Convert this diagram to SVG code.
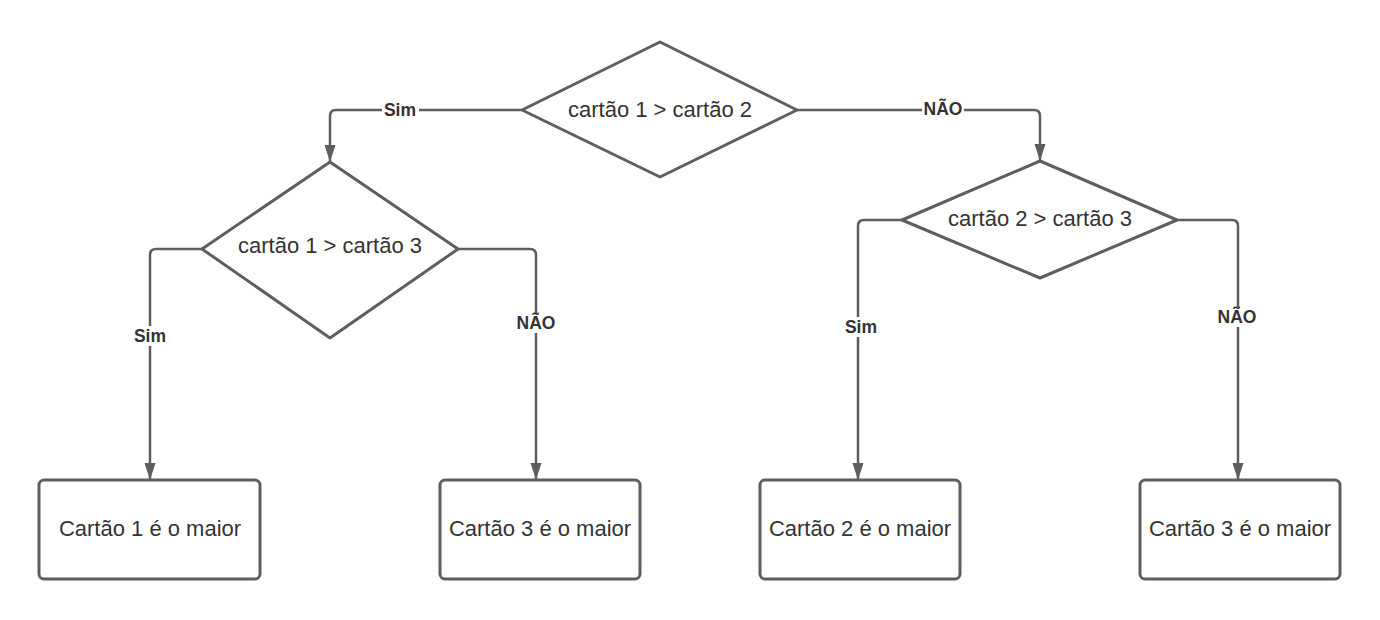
<svg xmlns="http://www.w3.org/2000/svg" width="1380" height="620" viewBox="0 0 1380 620">
<style>
.shape{fill:#ffffff;stroke:#5e5e5e;stroke-width:3;stroke-linejoin:round}
.conn{fill:none;stroke:#5e5e5e;stroke-width:2.5;stroke-linejoin:round}
.txt{font-family:"Liberation Sans",Arial,sans-serif;font-size:22px;fill:#333333;text-anchor:middle;dominant-baseline:central}
.lbl{font-family:"Liberation Sans",Arial,sans-serif;font-size:17.5px;font-weight:bold;fill:#333333;text-anchor:middle;dominant-baseline:central}
.lblbg{fill:#ffffff}
</style>
<defs>
<marker id="arr" viewBox="0 0 17 12" refX="16" refY="6" markerWidth="17" markerHeight="12" markerUnits="userSpaceOnUse" orient="auto">
<path d="M0,0.5 L17,6 L0,11.5 z" fill="#5e5e5e"/>
</marker>
</defs>
<g id="connectors">
<path class="conn" d="M522,110 H336 Q330,110 330,116 V161" marker-end="url(#arr)"/>
<path class="conn" d="M797,110 H1034 Q1040,110 1040,116 V160" marker-end="url(#arr)"/>
<path class="conn" d="M202,249 H156 Q150,249 150,255 V479" marker-end="url(#arr)"/>
<path class="conn" d="M458,249 H530 Q536,249 536,255 V479" marker-end="url(#arr)"/>
<path class="conn" d="M902,220 H864 Q858,220 858,226 V479" marker-end="url(#arr)"/>
<path class="conn" d="M1177,220 H1232 Q1238,220 1238,226 V479" marker-end="url(#arr)"/>
<rect class="lblbg" x="382" y="100" width="37" height="20"/>
<text class="lbl" x="400" y="110">Sim</text>
<rect class="lblbg" x="922" y="99" width="42" height="20"/>
<text class="lbl" x="943" y="109">NÃO</text>
<rect class="lblbg" x="131" y="326" width="38" height="20"/>
<text class="lbl" x="150" y="336">Sim</text>
<rect class="lblbg" x="515" y="313" width="42" height="20"/>
<text class="lbl" x="536" y="323">NÃO</text>
<rect class="lblbg" x="842" y="317" width="38" height="20"/>
<text class="lbl" x="861" y="327">Sim</text>
<rect class="lblbg" x="1216" y="307" width="42" height="20"/>
<text class="lbl" x="1237" y="317">NÃO</text>
</g>
<g id="d1">
<path class="shape" d="M660,42 L797,110 L660,177 L522,110 Z"/>
<text class="txt" x="660" y="109">cartão 1 &gt; cartão 2</text>
</g>
<g id="d2">
<path class="shape" d="M330,162 L458,249 L330,338 L202,249 Z"/>
<text class="txt" x="330" y="245">cartão 1 &gt; cartão 3</text>
</g>
<g id="d3">
<path class="shape" d="M1040,161 L1177,220 L1040,278 L902,220 Z"/>
<text class="txt" x="1040" y="218">cartão 2 &gt; cartão 3</text>
</g>
<g id="b1">
<rect class="shape" x="39" y="480" width="221" height="99" rx="5"/>
<text class="txt" x="150" y="528">Cartão 1 é o maior</text>
</g>
<g id="b2">
<rect class="shape" x="440" y="480" width="200" height="99" rx="5"/>
<text class="txt" x="540" y="528">Cartão 3 é o maior</text>
</g>
<g id="b3">
<rect class="shape" x="760" y="480" width="200" height="99" rx="5"/>
<text class="txt" x="860" y="528">Cartão 2 é o maior</text>
</g>
<g id="b4">
<rect class="shape" x="1140" y="480" width="200" height="99" rx="5"/>
<text class="txt" x="1240" y="528">Cartão 3 é o maior</text>
</g>
</svg>
